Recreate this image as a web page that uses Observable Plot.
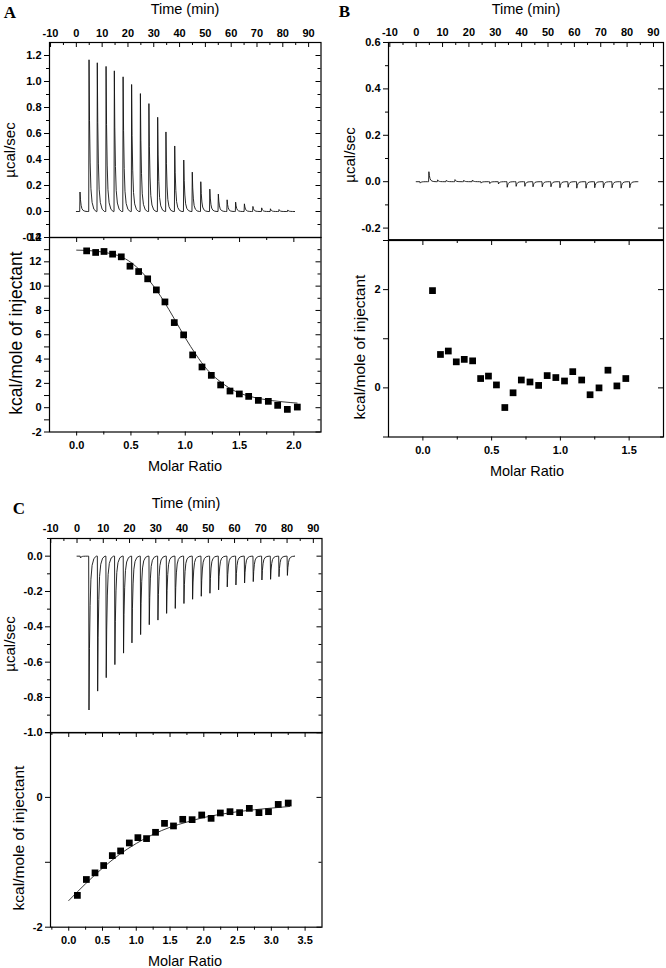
<!DOCTYPE html>
<html><head><meta charset="utf-8">
<script src="https://cdn.jsdelivr.net/npm/d3@7"></script>
<script src="https://cdn.jsdelivr.net/npm/@observablehq/plot@0.6"></script>
<style>
body{margin:0;background:#fff;}
#root{position:relative;width:666px;height:968px;overflow:hidden;font-family:"Liberation Sans",Arial,sans-serif;color:#000;}
.t{position:absolute;white-space:nowrap;transform:translate(-50%,-50%);line-height:1;}
.r{transform:translate(-50%,-50%) rotate(-90deg);}
.L{font-family:"Liberation Serif","Times New Roman",serif;font-weight:bold;font-size:17px;}
</style></head><body><div id="root"></div>
<script>
// ---------- Data ----------
// Panel A raw thermogram: injection times (min) and peak heights (µcal/sec)
const timesA = [1.3, 4.8, 8.0, 11.4, 14.6, 18.0, 21.3, 24.7, 28.0, 31.4, 34.6, 38.0, 41.5, 44.8, 48.1, 51.6, 54.9, 58.3, 61.6, 65.0, 68.3, 71.7, 75.1, 78.4, 81.8];
const peaksA = [0.15, 1.167, 1.144, 1.116, 1.082, 1.036, 0.977, 0.907, 0.830, 0.725, 0.612, 0.504, 0.396, 0.303, 0.229, 0.172, 0.134, 0.090, 0.072, 0.059, 0.039, 0.028, 0.021, 0.015, 0.012];
// Panel A integrated heats
const ratioA = [0.092, 0.175, 0.252, 0.331, 0.411, 0.491, 0.571, 0.654, 0.734, 0.813, 0.899, 0.985, 1.068, 1.154, 1.240, 1.326, 1.412, 1.498, 1.584, 1.673, 1.765, 1.851, 1.940, 2.032];
const heatA = [12.90, 12.77, 12.85, 12.63, 12.41, 11.64, 11.20, 10.60, 9.69, 8.70, 7.00, 5.99, 4.34, 3.35, 2.66, 1.87, 1.37, 1.13, 0.93, 0.60, 0.52, 0.19, -0.14, 0.05];
const fitRatioA = [0, 0.1, 0.2, 0.3, 0.4, 0.5, 0.6, 0.7, 0.8, 0.9, 1.0, 1.1, 1.2, 1.3, 1.4, 1.5, 1.6, 1.7, 1.8, 1.9, 2.03];
const fitHeatA = [12.96, 12.93, 12.85, 12.7, 12.45, 11.95, 11.15, 10.1, 8.8, 7.3, 5.75, 4.35, 3.15, 2.3, 1.65, 1.2, 0.92, 0.72, 0.58, 0.48, 0.38];

// Panel B raw thermogram
const timesB = [1.4, 4.7, 8.0, 11.3, 14.6, 17.9, 21.2, 24.5, 27.8, 31.1, 34.4, 37.8, 41.1, 44.2, 47.7, 51.0, 54.4, 57.5, 60.8, 64.3, 67.6, 70.9, 74.2, 77.6, 80.9];
const peaksB = [-0.006, 0.043, 0.008, 0.006, 0.009, 0.006, 0.007, -0.006, -0.008, -0.010, -0.024, -0.020, -0.020, -0.022, -0.022, -0.022, -0.026, -0.024, -0.028, -0.028, -0.026, -0.026, -0.026, -0.028, -0.026];
// Panel B integrated heats
const ratioB = [0.070, 0.128, 0.185, 0.243, 0.301, 0.362, 0.420, 0.477, 0.535, 0.596, 0.656, 0.716, 0.779, 0.842, 0.904, 0.967, 1.030, 1.090, 1.155, 1.216, 1.281, 1.346, 1.411, 1.476];
const heatB = [1.98, 0.68, 0.75, 0.53, 0.58, 0.55, 0.19, 0.24, 0.06, -0.40, -0.10, 0.16, 0.12, 0.05, 0.25, 0.21, 0.14, 0.33, 0.16, -0.14, 0.00, 0.36, 0.04, 0.19];

// Panel C raw thermogram
const timesC = [1.2, 4.44, 7.74, 11.0, 14.3, 17.6, 20.8, 24.1, 27.4, 30.7, 34.0, 37.3, 40.6, 43.9, 47.2, 50.5, 53.8, 57.1, 60.4, 63.7, 67.0, 70.3, 73.6, 76.8, 80.0];
const peaksC = [-0.01, -0.871, -0.764, -0.688, -0.614, -0.549, -0.491, -0.444, -0.388, -0.362, -0.324, -0.296, -0.268, -0.244, -0.227, -0.210, -0.191, -0.174, -0.163, -0.152, -0.144, -0.135, -0.131, -0.116, -0.109];
// Panel C integrated heats
const ratioC = [0.128, 0.261, 0.389, 0.517, 0.645, 0.768, 0.897, 1.024, 1.152, 1.285, 1.418, 1.551, 1.688, 1.827, 1.969, 2.108, 2.245, 2.388, 2.530, 2.674, 2.817, 2.958, 3.102, 3.250];
const heatC = [-1.51, -1.265, -1.163, -1.05, -0.897, -0.825, -0.702, -0.62, -0.635, -0.538, -0.40, -0.44, -0.338, -0.343, -0.271, -0.323, -0.24, -0.22, -0.235, -0.169, -0.235, -0.22, -0.108, -0.087];
const fitRatioC = [0, 0.25, 0.5, 0.75, 1.0, 1.25, 1.5, 1.75, 2.0, 2.25, 2.5, 2.75, 3.0, 3.27];
const fitHeatC = [-1.59, -1.33, -1.09, -0.88, -0.71, -0.57, -0.46, -0.38, -0.31, -0.26, -0.22, -0.19, -0.165, -0.14];

// Tick values
const timeTicks = [-10, 0, 10, 20, 30, 40, 50, 60, 70, 80, 90];
const timeMinor = [-5, 5, 15, 25, 35, 45, 55, 65, 75, 85];
const yTicksUA = [-0.2, 0, 0.2, 0.4, 0.6, 0.8, 1.0, 1.2];
const yTicksLA = [-2, 0, 2, 4, 6, 8, 10, 12, 14];
const xTicksA = [0, 0.5, 1.0, 1.5, 2.0];
const yTicksUB = [-0.2, 0, 0.2, 0.4, 0.6];
const yTicksLB = [0, 2];
const yMinorLB = [-1, 1, 3];
const xTicksB = [0, 0.5, 1.0, 1.5];
const yTicksUC = [-1.0, -0.8, -0.6, -0.4, -0.2, 0.0];
const yTicksLC = [-2, 0];
const yMinorLC = [-1, 1];
const xTicksC = [0, 0.5, 1.0, 1.5, 2.0, 2.5, 3.0, 3.5];

// Relative shape of one injection peak (minutes after injection, fraction of peak)
const peakShape = [[0,0],[0.12,1],[0.3,0.6],[0.55,0.32],[0.85,0.15],[1.3,0.06],[2.0,0.015],[2.9,0]];

// ---------- Helpers ----------
const root = document.getElementById("root");
function trace(times, peaks, t0, t1) {
  const pts = [{t: t0, v: 0}];
  times.forEach((t, i) => peakShape.forEach(([dt, f]) => pts.push({t: t + dt, v: peaks[i] * f})));
  pts.push({t: t1, v: 0});
  return pts;
}
function halves(arr) { const out = []; for (let i = 0; i < arr.length - 1; i++) out.push((arr[i] + arr[i+1]) / 2); return out; }
const f1 = d => d.toFixed(1);
const f0 = d => String(d);

function sub({x0, x1, y0, y1, xd, yd, mt, mb, ml = 48, mr = 4, marks}) {
  const svg = Plot.plot({
    width: (x1 - x0) + ml + mr, height: (y1 - y0) + mt + mb,
    marginLeft: ml, marginRight: mr, marginTop: mt, marginBottom: mb,
    x: {domain: xd}, y: {domain: yd},
    style: {fontFamily: "'Liberation Sans', Arial, sans-serif", fontSize: "11px", background: "transparent", overflow: "visible", color: "#000"},
    marks
  });
  svg.style.position = "absolute";
  svg.style.left = (x0 - ml) + "px";
  svg.style.top = (y0 - mt) + "px";
  svg.style.maxWidth = "none";
  root.append(svg);
}
function text(s, x, y, size, cls = "") {
  const d = document.createElement("div");
  d.className = "t " + cls; d.textContent = s;
  d.style.left = x + "px"; d.style.top = y + "px";
  if (size) d.style.fontSize = size + "px";
  root.append(d);
}
function frameTicks(fw, fh, yMaj, yMin, xMaj, xMin) {
  return [
    Plot.tickY(yMaj, {y: d => d, insetLeft: fw - 5, stroke: "black"}),
    Plot.tickY(yMin, {y: d => d, insetLeft: fw - 3, stroke: "black"}),
    Plot.tickX(xMaj, {x: d => d, insetBottom: fh - 5, stroke: "black"}),
    Plot.tickX(xMin, {x: d => d, insetBottom: fh - 3, stroke: "black"})
  ];
}

function panel({X0, X1, T, M, B, td, ud, ld, md, times, peaks, tEnd, yU, fmtU, yL, yLminor, xM, ratio, heat, fitR, fitH}) {
  const fw = X1 - X0;
  const yUminor = halves(yU).concat([yU[yU.length-1] + (yU[1]-yU[0])/2]).filter(v => v > ud[0] && v < ud[1]);
  const xMminor = halves(xM).concat([xM[0] - 0.25, xM[xM.length-1] + 0.25]).filter(v => v > md[0] && v < md[1]);
  const yLm = yLminor || halves(yL);
  // upper: thermogram
  sub({x0: X0, x1: X1, y0: T, y1: M, xd: td, yd: ud, mt: 22, mb: 0, marks: [
    Plot.line(trace(times, peaks, 0, tEnd), {x: "t", y: "v", stroke: "#111", strokeWidth: 0.9}),
    Plot.axisY(yU, {anchor: "left", tickSize: 5, tickPadding: 3, tickFormat: fmtU, label: null, fontWeight: "bold"}),
    Plot.axisY(yUminor, {anchor: "left", tickSize: 3, tickFormat: () => "", label: null}),
    Plot.axisX(timeTicks, {anchor: "top", tickSize: 0, tickPadding: 6, tickFormat: f0, label: null, fontWeight: "bold"}),
    ...frameTicks(fw, M - T, yU, yUminor, timeTicks.filter(v => v > td[0]), timeMinor),
    Plot.frame({stroke: "black", strokeWidth: 1.2})
  ]});
  // lower: integrated heats
  sub({x0: X0, x1: X1, y0: M, y1: B, xd: md, yd: ld, mt: 0, mb: 24, marks: [
    fitR ? Plot.line(fitR.map((r, i) => ({r, h: fitH[i]})), {x: "r", y: "h", curve: "monotone-x", stroke: "#222", strokeWidth: 0.9}) : null,
    Plot.dot(ratio.map((r, i) => ({r, h: heat[i]})), {x: "r", y: "h", symbol: "square", r: 3.8, fill: "black", stroke: null}),
    Plot.axisY(yL, {anchor: "left", tickSize: 5, tickPadding: 3, tickFormat: f0, label: null, fontWeight: "bold"}),
    Plot.axisY(yLm, {anchor: "left", tickSize: 5, tickFormat: () => "", label: null}),
    Plot.axisX(xM, {anchor: "bottom", tickSize: 4, tickPadding: 5, tickFormat: f1, label: null, fontWeight: "bold"}),
    Plot.axisX(xMminor, {anchor: "bottom", tickSize: 3, tickFormat: () => "", label: null}),
    ...frameTicks(fw, B - M, yL, yLm, xM, xMminor),
    Plot.frame({stroke: "black", strokeWidth: 1.2})
  ]});
}

// ---------- Panel A ----------
panel({X0: 49, X1: 320.5, T: 42, M: 237, B: 431.5, td: [-10.4, 94.8], ud: [-0.2, 1.3], ld: [-2, 14], md: [-0.25, 2.25],
  times: timesA, peaks: peaksA, tEnd: 84.6, yU: yTicksUA, fmtU: f1, yL: yTicksLA, xM: xTicksA,
  ratio: ratioA, heat: heatA, fitR: fitRatioA, fitH: fitHeatA});
text("A", 10, 12, null, "L");
text("Time (min)", 185, 9, 14.5);
text("µcal/sec", 9, 150, 15, "r");
text("kcal/mole of injectant", 17, 333, 17.5, "r");
text("Molar Ratio", 185, 466, 14.5);

// ---------- Panel B ----------
panel({X0: 388, X1: 663, T: 42.3, M: 239.5, B: 436, td: [-10.5, 93.8], ud: [-0.25, 0.6], ld: [-1, 3], md: [-0.25, 1.75],
  times: timesB, peaks: peaksB, tEnd: 84.1, yU: yTicksUB, fmtU: f1, yL: yTicksLB, yLminor: yMinorLB, xM: xTicksB,
  ratio: ratioB, heat: heatB});
text("B", 344.5, 11, null, "L");
text("Time (min)", 526, 9, 14.5);
text("µcal/sec", 349, 155, 15, "r");
text("kcal/mole of injectant", 360, 347, 15.5, "r");
text("Molar Ratio", 527, 471, 14.5);

// ---------- Panel C ----------
panel({X0: 49.5, X1: 321, T: 537.7, M: 732, B: 926.7, td: [-10.1, 93.3], ud: [-1.0, 0.1], ld: [-2, 1], md: [-0.27, 3.75],
  times: timesC, peaks: peaksC, tEnd: 82.8, yU: yTicksUC, fmtU: f1, yL: yTicksLC, yLminor: yMinorLC, xM: xTicksC,
  ratio: ratioC, heat: heatC, fitR: fitRatioC, fitH: fitHeatC});
text("C", 19, 507.5, null, "L");
text("Time (min)", 186, 502.5, 14.5);
text("µcal/sec", 9, 644, 15, "r");
text("kcal/mole of injectant", 19, 838, 15.5, "r");
text("Molar Ratio", 185, 961, 14.5);
</script></body></html>
